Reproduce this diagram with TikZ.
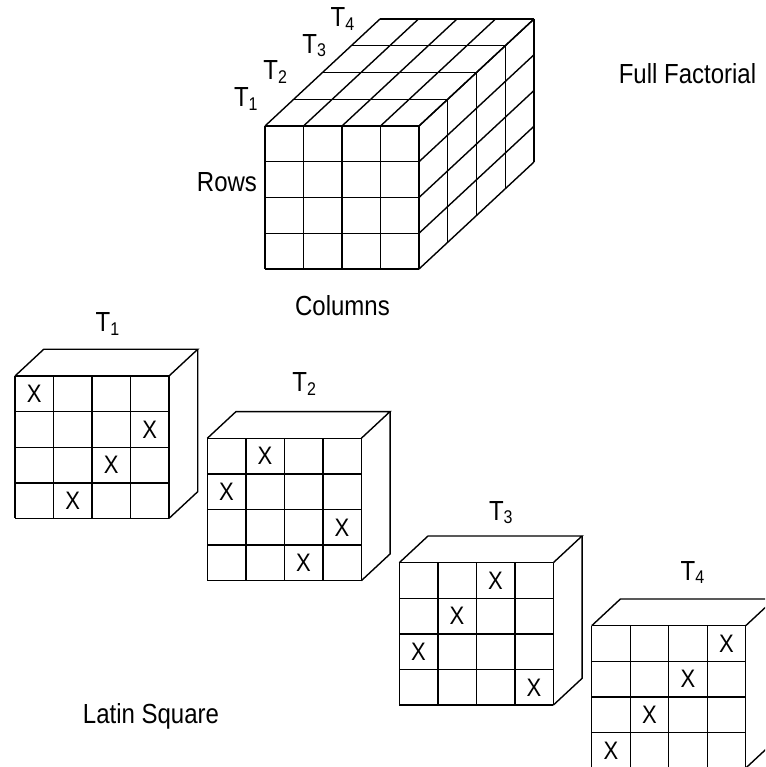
\documentclass[tikz,border=0pt]{standalone}
\usepackage{fontspec}
\setmainfont{Liberation Sans}
\newcommand\stretchtxt[1]{\scalebox{1}[1.15]{#1}}
\newcommand\Tsub[1]{\stretchtxt{T\raisebox{-3pt}{\fontsize{16}{16}\selectfont #1}}}
\tikzset{
  lbl/.style={inner sep=0pt, font=\fontsize{24}{28}\selectfont},
  tlbl/.style={inner sep=0pt, anchor=base west, font=\fontsize{24}{28}\selectfont},
  xmark/.style={inner sep=0pt, font=\fontsize{22}{26}\selectfont}
}
\def\cw{38.5}
\def\ch{35.75}
\def\lh{35.6}
\def\dx{28.75}
\def\dy{-26.75}
\newcommand\latinbox[3]{%
\begin{scope}[shift={#2}]
  \foreach \i in {0,...,4}{%
    \draw (\i*\cw,0) -- (\i*\cw,4*\lh);
    \draw (0,\i*\lh) -- (4*\cw,\i*\lh);
  }
  \draw (0,0) -- ++(\dx,\dy) -- ++(4*\cw,0) -- (4*\cw,0);
  \draw (4*\cw+\dx,\dy) -- ++(0,4*\lh) -- (4*\cw,4*\lh);
  \foreach \r/\c in {#3}{%
    \node[xmark] (#1-\r-\c) at ({(\c-0.5)*\cw},{(\r-0.5)*\lh}) {\stretchtxt{X}};
  }
\end{scope}}
\begin{document}
\begin{tikzpicture}[x=1pt,y=-1pt,line width=1.4pt]
\useasboundingbox (0,0) rectangle (765,767);
\clip (0,0) rectangle (765,767);
% full factorial cube
\begin{scope}[shift={(265,126)}]
  \foreach \i in {0,...,4}{%
    \draw (\i*\cw,0) -- (\i*\cw,4*\ch);
    \draw (0,\i*\ch) -- (4*\cw,\i*\ch);
    \draw (\i*\cw,0) -- ++(4*\dx,4*\dy);
    \draw (4*\cw,\i*\ch) -- ++(4*\dx,4*\dy);
    \draw (\i*\dx,\i*\dy) -- ++(4*\cw,0);
    \draw (4*\cw+\i*\dx,\i*\dy) -- ++(0,4*\ch);
  }
\end{scope}
\node[tlbl] (c1) at (233.3,106.7) {\Tsub{1}};
\node[tlbl] (c2) at (262.7,80) {\Tsub{2}};
\node[tlbl] (c3) at (301.7,53.3) {\Tsub{3}};
\node[tlbl] (c4) at (330,26.7) {\Tsub{4}};
\node[lbl,anchor=base] (rows) at (227,192) {\stretchtxt{Rows}};
\node[lbl,anchor=base] (cols) at (342.5,315) {\stretchtxt{Columns}};
\node[lbl,anchor=base] (ff) at (687.5,83.3) {\stretchtxt{Full Factorial}};
% latin squares
\latinbox{a}{(15,376)}{1/1,2/4,3/3,4/2}
\latinbox{b}{(207.3,438.3)}{1/2,2/1,3/4,4/3}
\latinbox{c}{(399.3,562.7)}{1/3,2/2,3/1,4/4}
\latinbox{d}{(591.7,625.7)}{1/4,2/3,3/2,4/1}
\node[tlbl] (l1) at (95,331.7) {\Tsub{1}};
\node[tlbl] (l2) at (291.7,391.7) {\Tsub{2}};
\node[tlbl] (l3) at (488.3,520) {\Tsub{3}};
\node[tlbl] (l4) at (680,580) {\Tsub{4}};
\node[lbl,anchor=base] (ls) at (151,723) {\stretchtxt{Latin Square}};
\end{tikzpicture}
\end{document}
